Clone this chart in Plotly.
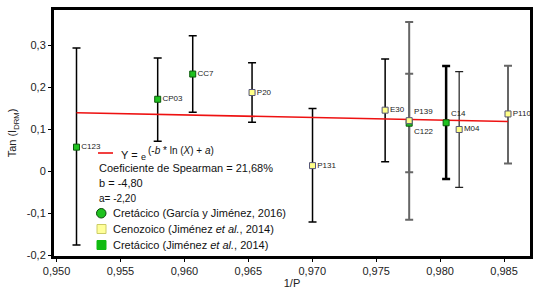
import plotly.graph_objects as go

# ---- data ----
labels = ["C123", "CP03", "CC7", "P20", "P131", "E30", "P139", "C122", "C14", "M04", "P110"]
inv_p = [0.95156, 0.95791, 0.96065, 0.96529, 0.97002, 0.97570, 0.97758, 0.97758, 0.98047, 0.98149, 0.98531]
tan_i = [0.058, 0.172, 0.232, 0.188, 0.014, 0.146, 0.121, 0.115, 0.116, 0.100, 0.137]
upper = [0.294, 0.270, 0.323, 0.259, 0.150, 0.268, 0.356, 0.233, 0.251, 0.238, 0.252]
lower = [-0.175, 0.072, 0.141, 0.117, -0.120, 0.023, -0.115, -0.002, -0.018, -0.038, 0.019]
group = ["cret14", "cret14", "cret14", "ceno", "ceno", "ceno", "ceno", "cret14", "cret14", "ceno", "ceno"]

fit_x = [0.95156, 0.98531]
fit_y = [0.140, 0.119]

x_ticks = [0.950, 0.955, 0.960, 0.965, 0.970, 0.975, 0.980, 0.985]
x_ticktext = ["0,950", "0,955", "0,960", "0,965", "0,970", "0,975", "0,980", "0,985"]
y_ticks = [-0.2, -0.1, 0, 0.1, 0.2, 0.3]
y_ticktext = ["-0,2", "-0,1", "0", "0,1", "0,2", "0,3"]

# ---- styles ----
FONT = "Liberation Sans, Arial, sans-serif"
bar_style = {  # (color, thickness)
    "P139": ("#666666", 2), "C122": ("#666666", 2), "P110": ("#666666", 2),
    "C14": ("#000000", 2.5), "M04": ("#222222", 1.2),
}
marker_style = {
    "cret14": dict(color="#1fc21f", line=dict(color="#0a5a0a", width=1)),
    "ceno": dict(color="#ffff88", line=dict(color="#555577", width=1)),
}
text_pos = {"P139": "top right", "C122": "bottom right", "C14": "top right"}

fig = go.Figure()

# error bars (one trace per point so each bar can keep its own stroke)
for lab, x, y, up, lo in zip(labels, inv_p, tan_i, upper, lower):
    col, w = bar_style.get(lab, ("#000000", 1.5))
    fig.add_trace(go.Scatter(
        x=[x], y=[y], mode="markers", marker=dict(size=2, opacity=0),
        error_y=dict(type="data", symmetric=False, array=[up - y], arrayminus=[y - lo],
                     color=col, thickness=w, width=4),
        showlegend=False, hoverinfo="skip"))

# fitted curve
fig.add_trace(go.Scatter(x=fit_x, y=fit_y, mode="lines",
                         line=dict(color="#ee1111", width=1.6), showlegend=False))

# markers + labels
for g in ["cret14", "ceno"]:
    idx = [i for i, gg in enumerate(group) if gg == g]
    fig.add_trace(go.Scatter(
        x=[inv_p[i] for i in idx], y=[tan_i[i] for i in idx],
        mode="markers+text", text=[labels[i] for i in idx],
        textposition=[text_pos.get(labels[i], "middle right") for i in idx],
        textfont=dict(family=FONT, size=8, color="#222222"),
        marker=dict(symbol="square", size=6, **marker_style[g]),
        showlegend=False))

# ---- legend drawn inside the plot ----
ann = []
shapes = []

def py(pix):  # pixel y in figure -> paper y of plot area (t=10, h=246)
    return 1 - (pix - 10) / 246

def px(pix):  # pixel x -> paper x (l=54, w=476)
    return (pix - 54) / 476

shapes.append(dict(type="line", xref="paper", yref="paper",
                   x0=px(98), x1=px(113), y0=py(153), y1=py(153),
                   line=dict(color="#ee1111", width=1.6)))
ann.append(dict(x=px(119), y=py(155), text="Y =", font=dict(size=11)))
ann.append(dict(x=px(139), y=py(157), text="e", font=dict(size=9)))
ann.append(dict(x=px(146), y=py(150), text="(-<i>b</i> * ln (<i>X</i>) + <i>a</i>)", font=dict(size=10)))
ann.append(dict(x=px(97), y=py(168), text="Coeficiente de Spearman = 21,68%", font=dict(size=11)))
ann.append(dict(x=px(97), y=py(183), text="b = -4,80", font=dict(size=11)))
ann.append(dict(x=px(97), y=py(198), text="a= -2,20", font=dict(size=10)))
shapes.append(dict(type="circle", xref="paper", yref="paper",
                   x0=px(96.5), x1=px(106), y0=py(208.5), y1=py(218),
                   fillcolor="#1fc21f", line=dict(color="#0a4a0a", width=1)))
ann.append(dict(x=px(111), y=py(213), text="Cretácico (García y Jiménez, 2016)", font=dict(size=11)))
shapes.append(dict(type="rect", xref="paper", yref="paper",
                   x0=px(97), x1=px(106), y0=py(224.5), y1=py(233.5),
                   fillcolor="#ffff99", line=dict(color="#cccc66", width=1)))
ann.append(dict(x=px(111), y=py(229), text="Cenozoico (Jiménez <i>et al.</i>, 2014)", font=dict(size=11)))
shapes.append(dict(type="rect", xref="paper", yref="paper",
                   x0=px(97), x1=px(106), y0=py(240.5), y1=py(249.5),
                   fillcolor="#11bb11", line=dict(color="#11bb11", width=1)))
ann.append(dict(x=px(111), y=py(245), text="Cretácico (Jiménez <i>et al.</i>, 2014)", font=dict(size=11)))

for a in ann:
    a.update(xref="paper", yref="paper", xanchor="left", yanchor="middle", showarrow=False)
    a["font"].update(family=FONT, color="#111111")

fig.update_layout(
    width=548, height=289,
    margin=dict(l=54, r=18, t=10, b=33),
    paper_bgcolor="white", plot_bgcolor="white",
    font=dict(family=FONT, size=11, color="#222222"),
    annotations=ann, shapes=shapes,
    showlegend=False,
)
fig.update_xaxes(range=[0.9498, 0.98703], tickvals=x_ticks, ticktext=x_ticktext,
                 automargin=False,
                 showgrid=False, zeroline=False, showline=True, mirror=True,
                 linecolor="black", linewidth=3, ticks="outside", ticklen=3,
                 tickcolor="black", tickfont=dict(size=11),
                 title=dict(text="1/P", font=dict(size=11), standoff=1))
fig.update_yaxes(range=[-0.2012, 0.3845], tickvals=y_ticks, ticktext=y_ticktext,
                 automargin=False,
                 showgrid=False, zeroline=False, showline=True, mirror=True,
                 linecolor="black", linewidth=3, ticks="outside", ticklen=3,
                 tickcolor="black", tickfont=dict(size=11),
                 title=dict(text="Tan (I<sub>DRM</sub>)", font=dict(size=11), standoff=8))

fig.write_html("out.html", config={"displayModeBar": False},
               post_script="document.body.style.margin='0';document.body.style.overflow='hidden';")
